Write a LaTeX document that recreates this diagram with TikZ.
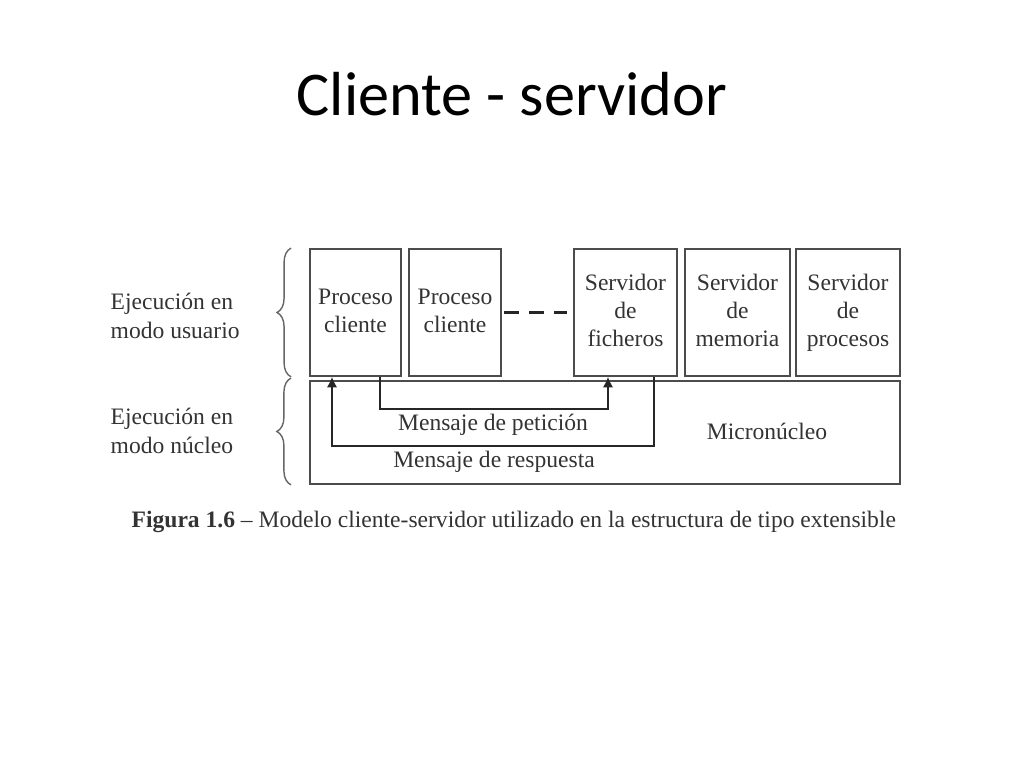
\documentclass[tikz,border=0pt]{standalone}
\usepackage{fontspec}
\setmainfont{Liberation Serif}
\newfontfamily\titlefont{Carlito}
\usetikzlibrary{arrows.meta,calc,decorations.pathreplacing}
\newcommand\boxstrut{\rule[-1.2pt]{0pt}{7.2pt}}
\begin{document}
\begin{tikzpicture}[x=0.01cm,y=-0.01cm,
    every node/.style={font=\fontsize{6.7}{8}\selectfont,text=black!80},
    box/.style={draw=black!70,line width=0.5pt,minimum height=1.27cm,align=center,inner sep=0pt,
        execute at begin node=\boxstrut,execute at end node=\boxstrut},
    msg/.style={draw=black!85,line width=0.5pt,-{Latex[length=3pt,width=3pt]}},
    brace/.style={draw=black!60,line width=0.4pt,decorate,decoration={brace,amplitude=4pt}}]
    \useasboundingbox (0,0) rectangle (1024,768);
    % title
    \node[anchor=base,font=\titlefont\fontsize{17.7}{20}\selectfont,text=black] (title) at (512,116) {Cliente - servidor};
    % user mode processes
    \node[box,minimum width=0.91cm] (proc1) at (355.5,312.5) {Proceso\\cliente};
    \node[box,minimum width=0.92cm] (proc2) at (455,312.5) {Proceso\\cliente};
    \node[box,minimum width=1.03cm] (fich) at (625.5,312.5) {Servidor\\de\\ficheros};
    \node[box,minimum width=1.05cm] (mem) at (737.5,312.5) {Servidor\\de\\memoria};
    \node[box,minimum width=1.04cm] (procs) at (848,312.5) {Servidor\\de\\procesos};
    \draw[black!85,line width=1pt,dash pattern=on 4.3pt off 2.8pt,shorten <=0.6pt,shorten >=1.7pt] (proc2.east) -- (fich.west);
    % kernel
    \node[draw=black!70,line width=0.5pt,minimum width=5.9cm,minimum height=1.03cm] (micro) at (605,432.5) {};
    \node[anchor=base] (microlbl) at (767,440) {Micronúcleo};
    % messages
    \draw[msg] ($(proc1.south)+(24.5,0)$) -- ++(0,32) -| ($(fich.south)+(-17.5,0)$);
    \draw[msg] ($(fich.south)+(28.5,0)$) -- ++(0,69) -| ($(proc1.south)+(-23.5,0)$);
    \node[anchor=base] (pet) at (493,431) {Mensaje de petición};
    \node[anchor=base] (resp) at (494,468) {Mensaje de respuesta};
    % modes
    \draw[brace] ($(proc1.south west)+(-18,0)$) -- ($(proc1.north west)+(-18,0)$);
    \draw[brace] ($(micro.south west)+(-18,0)$) -- ($(micro.north west)+(-18,-2)$);
    \node[anchor=west,align=left,inner sep=0pt] (usr) at (110,316) {Ejecución en\\modo usuario};
    \node[anchor=west,align=left,inner sep=0pt] (nuc) at (110,431) {Ejecución en\\modo núcleo};
    % caption
    \node[anchor=base west,inner sep=0pt] (cap) at (131,528) {\textbf{Figura 1.6} -- Modelo cliente-servidor utilizado en la estructura de tipo extensible};
\end{tikzpicture}
\end{document}
